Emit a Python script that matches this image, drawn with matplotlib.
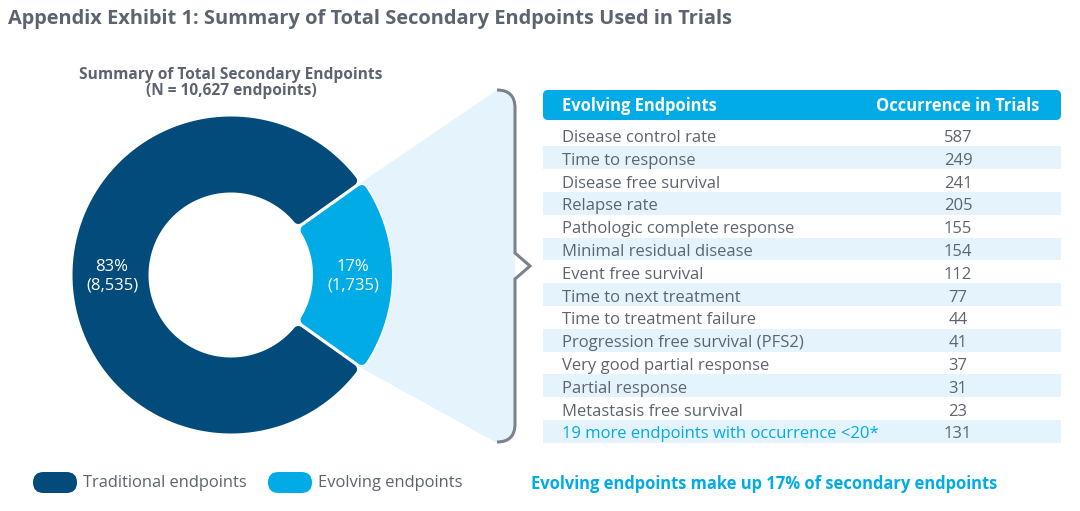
import numpy as np
import matplotlib.pyplot as plt
from matplotlib.patches import Polygon, FancyBboxPatch, PathPatch, Rectangle
from matplotlib.path import Path

plt.rcParams['font.family'] = ['Open Sans', 'DejaVu Sans']

# data
total_endpoints = 10627
segment_names = ['Traditional endpoints', 'Evolving endpoints']
segment_counts = [8535, 1735]
segment_pcts = [83, 17]

endpoint_names = [
    'Disease control rate', 'Time to response', 'Disease free survival',
    'Relapse rate', 'Pathologic complete response', 'Minimal residual disease',
    'Event free survival', 'Time to next treatment', 'Time to treatment failure',
    'Progression free survival (PFS2)', 'Very good partial response',
    'Partial response', 'Metastasis free survival',
    '19 more endpoints with occurrence <20*',
]
endpoint_counts = [587, 249, 241, 205, 155, 154, 112, 77, 44, 41, 37, 31, 23, 131]

DARK = '#024b7b'
CYAN = '#00abe6'
PALE = '#e5f4fc'
GRAY = '#5d6470'
BRACE = '#7a828e'

fig = plt.figure(figsize=(10.8, 5.11), dpi=100)
ax = fig.add_axes([0, 0, 1, 1])
ax.set_xlim(0, 1080)
ax.set_ylim(511, 0)
ax.set_aspect('equal')
ax.axis('off')

PX = 72 / 100  # points per pixel


def ring_segment(cx, cy, r_in, r_out, t1, t2, inset, gap, **kw):
    # annular sector shrunk by `inset`, straight sides pulled in by a constant gap
    ro, ri = r_out - inset, r_in + inset
    s = inset + gap
    pts = []
    for R, a, b in [(ro, t1, t2), (ri, t2, t1)]:
        da = np.degrees(np.arcsin(s / R))
        th = np.linspace(a + da, b - da, 120) if a < b else np.linspace(a - da, b + da, 120)
        pts += [(cx + R * np.cos(np.radians(t)), cy - R * np.sin(np.radians(t))) for t in th]
    return Polygon(pts, closed=True, joinstyle='round', **kw)


cx, cy = 231, 275
half = 180 * (1 - segment_counts[0] / total_endpoints)

# fan behind the evolving segment
fan = [(356, 186), (497, 90), (509, 95), (515, 106), (515, 430), (509, 439),
       (497, 443), (356, 365), (350, 275)]
ax.add_patch(Polygon(fan, closed=True, facecolor=PALE, edgecolor='none', zorder=0))

# donut
inset = 5
dark = ring_segment(cx, cy, 82.5, 158.5, half, 360 - half, inset, 1.6,
                    facecolor=DARK, edgecolor=DARK, linewidth=2 * inset * PX, zorder=2)
ax.add_patch(dark)
light_halo = ring_segment(cx, cy, 82, 161, -half, half, inset, 1.6,
                          facecolor='white', edgecolor='white',
                          linewidth=(2 * inset + 2.5) * PX, zorder=3)
light = ring_segment(cx, cy, 82, 161, -half, half, inset, 1.6,
                     facecolor=CYAN, edgecolor=CYAN, linewidth=2 * inset * PX, zorder=4)
ax.add_patch(light_halo)
ax.add_patch(light)

ax.text(112, 276, f'{segment_pcts[0]}%\n({segment_counts[0]:,})', color='white',
        fontsize=12, ha='center', va='center', linespacing=1.2, zorder=5)
ax.text(353, 276, f'{segment_pcts[1]}%\n({segment_counts[1]:,})', color='white',
        fontsize=12, ha='center', va='center', linespacing=1.2, zorder=5)

ax.text(231, 83, f'Summary of Total Secondary Endpoints\n(N = {total_endpoints:,} endpoints)',
        color=GRAY, fontsize=11.2, fontweight='bold', ha='center', va='center',
        linespacing=0.95)

# brace
verts = [(497, 90), (515, 90), (515, 108), (515, 253), (530, 266), (515, 279),
         (515, 424), (515, 442), (497, 442)]
codes = [Path.MOVETO, Path.CURVE3, Path.CURVE3, Path.LINETO, Path.LINETO,
         Path.LINETO, Path.LINETO, Path.CURVE3, Path.CURVE3]
ax.add_patch(PathPatch(Path(verts, codes), facecolor='none', edgecolor=BRACE,
                       linewidth=2.2, joinstyle='miter', zorder=3))

# table
tx0, tx1 = 543, 1061
ax.add_patch(FancyBboxPatch((tx0, 90), tx1 - tx0, 30,
                            boxstyle='round,pad=0,rounding_size=5',
                            facecolor=CYAN, edgecolor='none'))
ax.text(562, 106, 'Evolving Endpoints', color='white', fontsize=11.9,
        fontweight='bold', ha='left', va='center')
ax.text(958, 106, 'Occurrence in Trials', color='white', fontsize=11.9,
        fontweight='bold', ha='center', va='center')

row_h = 22.8
for i, (name, count) in enumerate(zip(endpoint_names, endpoint_counts)):
    yc = 135 + row_h * i
    if i % 2 == 1:
        ax.add_patch(Rectangle((tx0, yc - row_h / 2), tx1 - tx0, row_h,
                               facecolor=PALE, edgecolor='none', zorder=0))
    name_color = CYAN if i == len(endpoint_names) - 1 else GRAY
    ax.text(562, yc + 7, name, color=name_color, fontsize=12, ha='left', va='baseline')
    ax.text(958, yc + 7, f'{count}', color=GRAY, fontsize=12, ha='center', va='baseline')

# title
ax.text(8, 19, 'Appendix Exhibit 1: Summary of Total Secondary Endpoints Used in Trials',
        color=GRAY, fontsize=14.4, fontweight='bold', ha='left', va='center')

# legend
for x0, name, col in [(33, segment_names[0], DARK), (268, segment_names[1], CYAN)]:
    ax.add_patch(FancyBboxPatch((x0, 472), 44, 21,
                                boxstyle='round,pad=0,rounding_size=10.5',
                                facecolor=col, edgecolor='none'))
    ax.text(x0 + 50, 483, name, color=GRAY, fontsize=11.9, ha='left', va='center')

ax.text(531, 484, f'Evolving endpoints make up {segment_pcts[1]}% of secondary endpoints',
        color=CYAN, fontsize=11.9, fontweight='bold', ha='left', va='center')

fig.savefig('out.png', dpi=100)
